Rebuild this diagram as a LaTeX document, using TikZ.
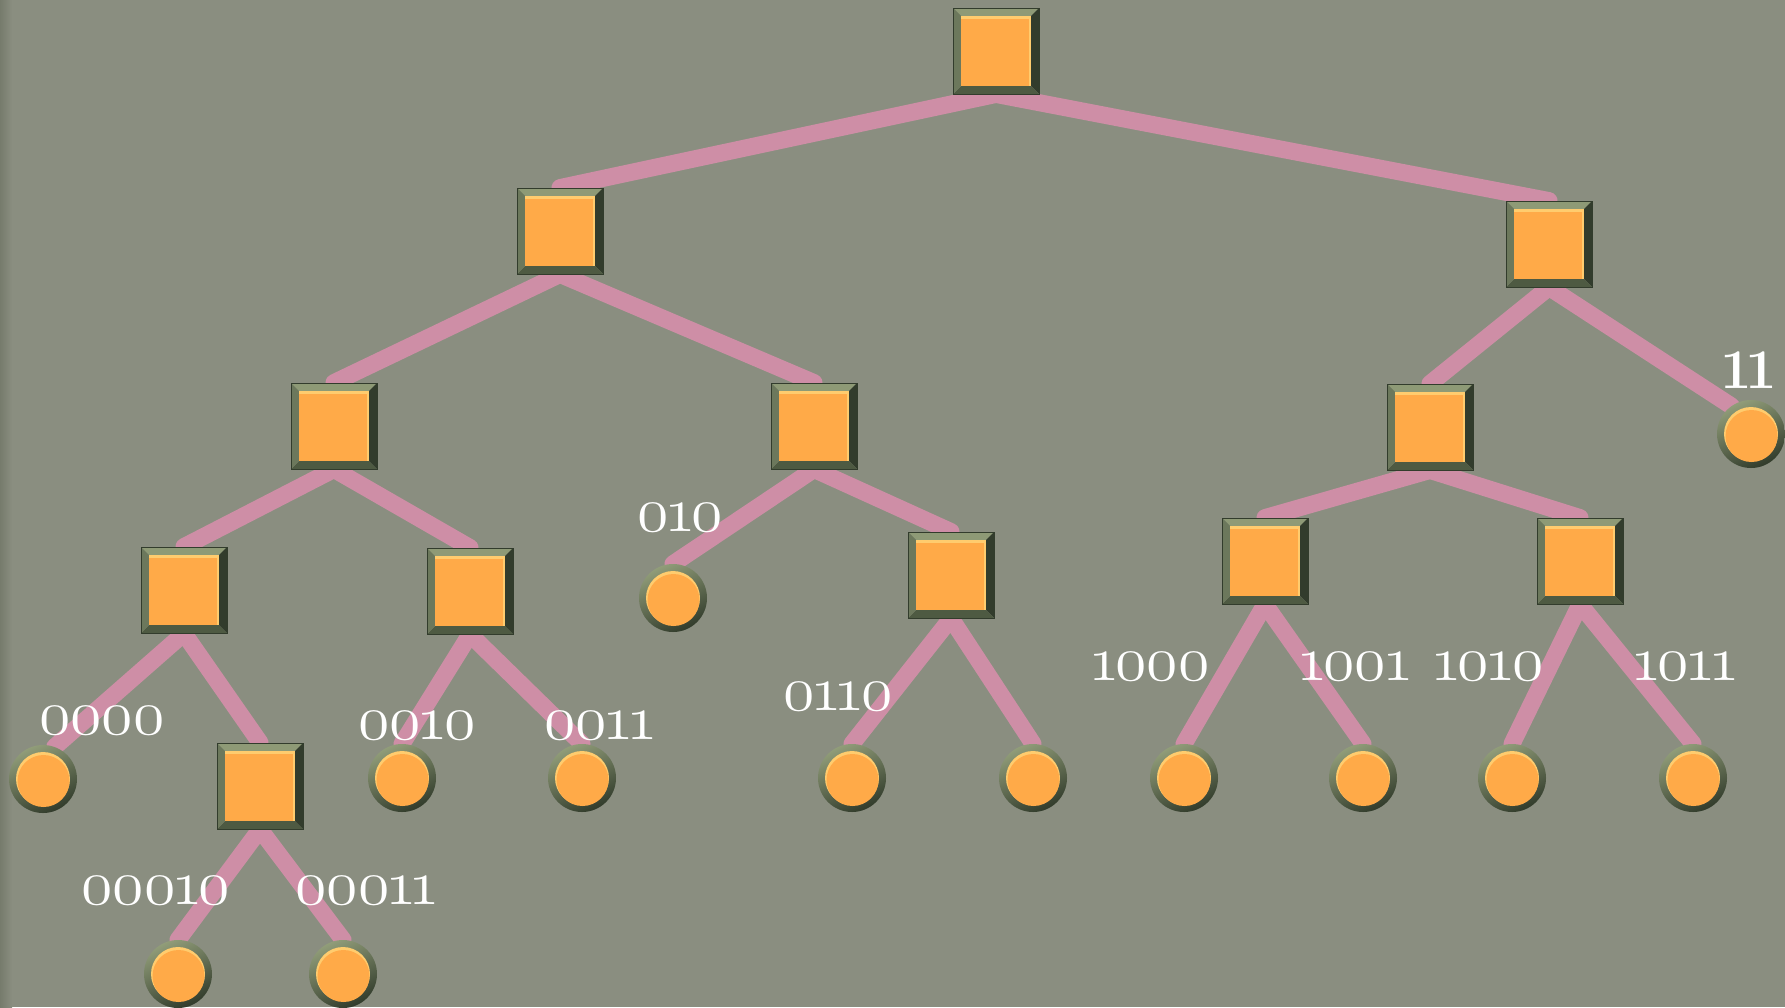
\RequirePackage{fix-cm}
\documentclass[tikz,border=0pt]{standalone}
\usetikzlibrary{calc}
\definecolor{bgc}{RGB}{138,142,128}
\definecolor{bgdk}{RGB}{118,123,108}
\definecolor{pinkc}{RGB}{206,142,166}
\definecolor{orc}{RGB}{255,170,72}
\definecolor{orhi}{RGB}{255,204,110}
\definecolor{bevtop}{RGB}{142,154,118}
\definecolor{bevleft}{RGB}{108,120,92}
\definecolor{bevright}{RGB}{50,60,44}
\definecolor{bevbot}{RGB}{78,90,66}
\definecolor{ringlt}{RGB}{146,158,122}
\definecolor{ringdk}{RGB}{48,58,42}
\newcommand\osn[1]{{\usefont{OML}{cmm}{m}{it}#1}}
\newcommand\one{\kern-4pt1\kern-4pt}
\pgfdeclarelayer{bglayer}
\pgfdeclarelayer{edgelayer}
\pgfsetlayers{bglayer,edgelayer,main}
\tikzset{
  sqbox/.style={rectangle, minimum size=86pt, inner sep=0pt, draw=bevright, line width=0.8pt,
    path picture={
      \begin{scope}[shift={(path picture bounding box.center)}]
        \fill[bevtop] (-43pt,43pt)--(43pt,43pt)--(35pt,35pt)--(-35pt,35pt)--cycle;
        \fill[bevright] (43pt,43pt)--(43pt,-43pt)--(35pt,-35pt)--(35pt,35pt)--cycle;
        \fill[bevbot] (43pt,-43pt)--(-43pt,-43pt)--(-35pt,-35pt)--(35pt,-35pt)--cycle;
        \fill[bevleft] (-43pt,-43pt)--(-43pt,43pt)--(-35pt,35pt)--(-35pt,-35pt)--cycle;
        \fill[orhi] (-35pt,-35pt) rectangle (35pt,35pt);
        \fill[orc] (-35pt,-35pt) rectangle (33pt,32pt);
      \end{scope}}},
  leaf/.style={circle, minimum size=68pt, inner sep=0pt,
    path picture={
      \begin{scope}[shift={(path picture bounding box.center)}]
        \shade[top color=ringlt, bottom color=ringdk, shading angle=25] (0pt,0pt) circle (35pt);
        \fill[orhi] (0pt,0pt) circle (27pt);
        \fill[orc] (0.5pt,-2pt) circle (26pt);
      \end{scope}}},
  lab/.style={text=white, font=\fontsize{64}{64}\selectfont, inner sep=0pt},
  edge/.style={draw=pinkc, line width=17pt, line cap=round}
}
\begin{document}
\begin{tikzpicture}[x=1pt,y=-1pt]
\useasboundingbox (0,0) rectangle (1785,1007);
\begin{pgfonlayer}{bglayer}
  \fill[bgc] (0,0) rectangle (1785,1007);
  \shade[left color=bgdk, right color=bgc] (0,0) rectangle (12,1007);
\end{pgfonlayer}
% squares
\node[sqbox] (r) at (996,51) {};
\node[sqbox] (L) at (560,231) {};
\node[sqbox] (R) at (1549,244) {};
\node[sqbox] (LL) at (334,426) {};
\node[sqbox] (LR) at (814,426) {};
\node[sqbox] (RL) at (1430,427) {};
\node[sqbox] (LLL) at (184,590) {};
\node[sqbox] (LLR) at (470,591) {};
\node[sqbox] (LRR) at (951,575) {};
\node[sqbox] (RLL) at (1265,561) {};
\node[sqbox] (RLR) at (1580,561) {};
\node[sqbox] (LLLR) at (260,786) {};
% leaves
\node[leaf] (RR) at (1751,434) {};
\node[leaf] (LRL) at (673,598) {};
\node[leaf] (LLLL) at (43,779) {};
\node[leaf] (LLRL) at (402,778) {};
\node[leaf] (LLRR) at (582,778) {};
\node[leaf] (LRRL) at (852,778) {};
\node[leaf] (LRRR) at (1033,778) {};
\node[leaf] (RLLL) at (1184,778) {};
\node[leaf] (RLLR) at (1363,778) {};
\node[leaf] (RLRL) at (1512,778) {};
\node[leaf] (RLRR) at (1693,778) {};
\node[leaf] (LLLRL) at (178,974) {};
\node[leaf] (LLLRR) at (343,974) {};
% edges
\begin{pgfonlayer}{edgelayer}
  \draw[edge] (r.south) -- (L.north);
  \draw[edge] (r.south) -- (R.north);
  \draw[edge] (L.south) -- (LL.north);
  \draw[edge] (L.south) -- (LR.north);
  \draw[edge] (R.south) -- (RL.north);
  \draw[edge] (R.south) -- (RR.125);
  \draw[edge] (LL.south) -- (LLL.north);
  \draw[edge] (LL.south) -- (LLR.north);
  \draw[edge] (LR.south) -- (LRL.north);
  \draw[edge] (LR.south) -- (LRR.north);
  \draw[edge] (RL.south) -- (RLL.north);
  \draw[edge] (RL.south) -- (RLR.north);
  \draw[edge] (LLL.south) -- (LLLL.70);
  \draw[edge] (LLL.south) -- (LLLR.north);
  \draw[edge] (LLR.south) -- (LLRL.north);
  \draw[edge] (LLR.south) -- (LLRR.north);
  \draw[edge] (LRR.south) -- (LRRL.north);
  \draw[edge] (LRR.south) -- (LRRR.north);
  \draw[edge] (RLL.south) -- (RLLL.north);
  \draw[edge] (RLL.south) -- (RLLR.north);
  \draw[edge] (RLR.south) -- (RLRL.north);
  \draw[edge] (RLR.south) -- (RLRR.north);
  \draw[edge] (LLLR.south) -- (LLLRL.north);
  \draw[edge] (LLLR.south) -- (LLLRR.north);
\end{pgfonlayer}
% labels
\node[text=white, inner sep=0pt, font=\fontsize{56}{56}\selectfont\bfseries] (l11) at (1749,370) {1\kern-7pt1};
\node[lab] (l010) at (680,518) {\osn{0\one0}};
\node[lab] (l0000) at (102,721) {\osn{0000}};
\node[lab] (l0010) at (417,726) {\osn{00\one0}};
\node[lab] (l0011) at (599,726) {\osn{00\one\one}};
\node[lab] (l0110) at (838,697) {\osn{0\one\one0}};
\node[lab] (l1000) at (1151,667) {\osn{\one000}};
\node[lab] (l1001) at (1355,667) {\osn{\one00\one}};
\node[lab] (l1010) at (1489,667) {\osn{\one0\one0}};
\node[lab] (l1011) at (1685,667) {\osn{\one0\one\one}};
\node[lab] (l00010) at (156,891) {\osn{000\one0}};
\node[lab] (l00011) at (366,891) {\osn{000\one\one}};
\end{tikzpicture}
\end{document}
